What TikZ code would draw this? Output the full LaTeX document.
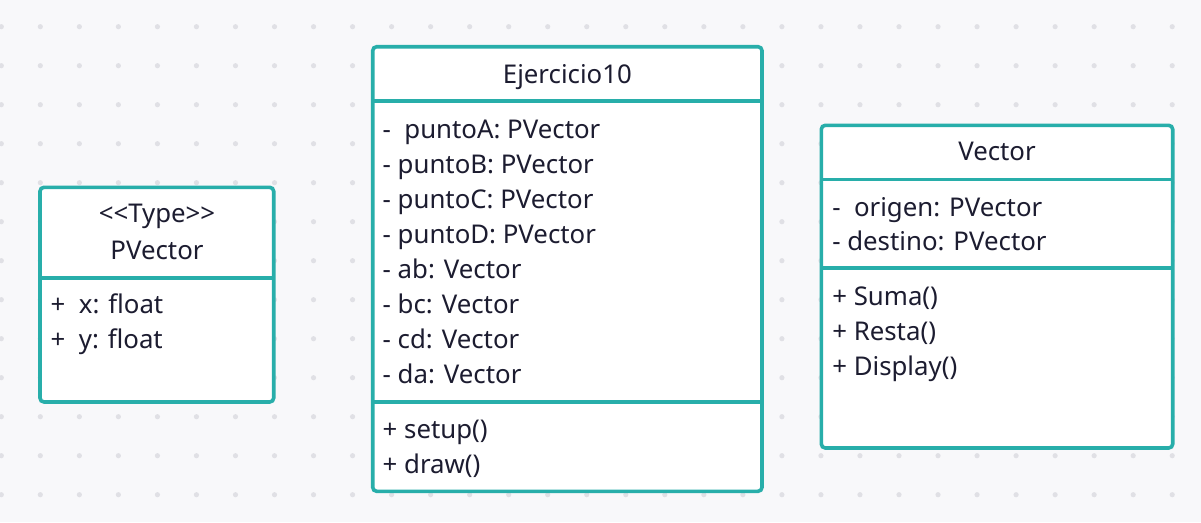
\documentclass[tikz,border=0pt]{standalone}
\usepackage{fontspec}
\setmainfont{Noto Sans}
\definecolor{umlteal}{RGB}{40,174,170}
\definecolor{bgc}{RGB}{248,248,250}
\definecolor{dotc}{RGB}{224,224,229}
\definecolor{inkc}{RGB}{28,28,48}
\tikzset{
  classbox/.style={draw=umlteal, line width=3.6pt, fill=white, rounded corners=4pt, inner sep=0pt, outer sep=0pt},
  sepline/.style={draw=umlteal, line width=3.6pt},
  txt/.style={inner sep=0pt, outer sep=0pt, text=inkc, font=\fontsize{25.8}{30}\selectfont},
  lefttxt/.style={txt, anchor=base west},
  titletxt/.style={txt, anchor=base}
}
\begin{document}
\begin{tikzpicture}[x=1pt,y=-1pt]
\fill[bgc] (0,0) rectangle (1201,522);
\useasboundingbox (0,0) rectangle (1201,522);
\foreach \i in {0,...,30} {
  \foreach \j in {0,...,12} {
    \fill[dotc] (1.3+39.03*\i, 26.7+39*\j) circle (2.6pt);
  }
}
% PVector
\node[classbox, minimum width=233.7pt, minimum height=214.7pt] (pv) at (156.85,294.65) {};
\coordinate (pvs) at (0,277.7);
\draw[sepline] (pv.west |- pvs) -- (pv.east |- pvs);
\node[titletxt] (pvt1) at (157,222.7) {<\kern0pt<Type>\kern0pt>};
\node[titletxt] (pvt2) at (157,259.3) {PVector};
\node[lefttxt] (pva1) at (50.7,313.3) {+\ \ x: float};
\node[lefttxt] (pva2) at (50.7,348.3) {+\ \ y: float};
% Ejercicio10
\node[classbox, minimum width=389.3pt, minimum height=444.6pt] (ej) at (567.35,269) {};
\coordinate (ejs1) at (0,100.7);
\coordinate (ejs2) at (0,402);
\draw[sepline] (ej.west |- ejs1) -- (ej.east |- ejs1);
\draw[sepline] (ej.west |- ejs2) -- (ej.east |- ejs2);
\node[titletxt] (ejt) at (567.35,83.3) {Ejercicio10};
\node[lefttxt] (eja1) at (382.7,138.3) {-\ \ puntoA: PVector};
\node[lefttxt] (eja2) at (382.7,173.3) {- puntoB: PVector};
\node[lefttxt] (eja3) at (382.7,208.3) {- puntoC: PVector};
\node[lefttxt] (eja4) at (382.7,243.3) {- puntoD: PVector};
\node[lefttxt] (eja5) at (382.7,278.3) {- ab: Vector};
\node[lefttxt] (eja6) at (382.7,313.3) {- bc: Vector};
\node[lefttxt] (eja7) at (382.7,348.3) {- cd: Vector};
\node[lefttxt] (eja8) at (382.7,383.3) {- da: Vector};
\node[lefttxt] (ejm1) at (382.7,438.3) {+ setup()};
\node[lefttxt] (ejm2) at (382.7,473.3) {+ draw()};
% Vector
\node[classbox, minimum width=351.4pt, minimum height=322.7pt] (ve) at (997,286.65) {};
\coordinate (ves1) at (0,179.3);
\coordinate (ves2) at (0,268);
\draw[sepline] (ve.west |- ves1) -- (ve.east |- ves1);
\draw[sepline] (ve.west |- ves2) -- (ve.east |- ves2);
\node[titletxt] (vet) at (997,160.7) {Vector};
\node[lefttxt] (vea1) at (832.3,216) {-\ \ origen: PVector};
\node[lefttxt] (vea2) at (832.3,250.7) {- destino: PVector};
\node[lefttxt] (vem1) at (832.3,305) {+ Suma()};
\node[lefttxt] (vem2) at (832.3,340) {+ Resta()};
\node[lefttxt] (vem3) at (832.3,375) {+ Display()};
\end{tikzpicture}
\end{document}
